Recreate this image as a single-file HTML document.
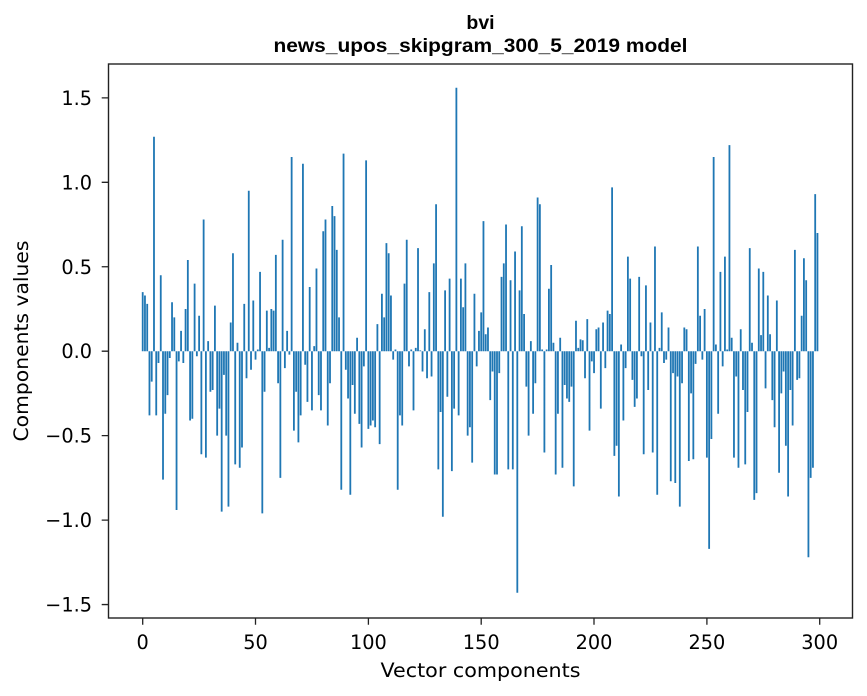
<!DOCTYPE html>
<html><head><meta charset="utf-8"><style>
html,body{margin:0;padding:0;background:#fff;}
svg{display:block;}
</style></head><body>
<svg width="867" height="696" viewBox="0 0 867 696" xmlns="http://www.w3.org/2000/svg">
<rect width="867" height="696" fill="#fff"/>
<g font-family="'Liberation Sans', Arial, sans-serif" font-weight="bold" font-size="19.5" fill="#000" text-anchor="middle">
<text x="480.5" y="29">bvi</text>
<text x="480.5" y="52" textLength="414" lengthAdjust="spacingAndGlyphs">news_upos_skipgram_300_5_2019 model</text>
</g>
<g transform="translate(142.7,351.2) scale(2.2567,-168.9)">
<path fill="none" stroke="#1f77b4" stroke-width="0.8" d="M0 0V.35M1 0V.33M2 0V.28M3 0V-.38M4 0V-.18M5 0V1.27M6 0V-.38M7 0V-.07M8 0V.45M9 0V-.76M10 0V-.37M11 0V-.26M12 0V-.04M13 0V.29M14 0V.2M15 0V-.94M16 0V-.06M17 0V.12M18 0V-.07M19 0V.25M20 0V.54M21 0V-.41M22 0V-.4M23 0V.4M24 0V-.03M25 0V.21M26 0V-.61M27 0V.78M28 0V-.63M29 0V.06M30 0V-.24M31 0V-.23M32 0V.27M33 0V-.5M34 0V-.34M35 0V-.95M36 0V-.14M37 0V-.5M38 0V-.92M39 0V.17M40 0V.58M41 0V-.67M42 0V.05M43 0V-.69M44 0V-.57M45 0V.28M46 0V-.16M47 0V.95M48 0V-.11M49 0V.3M50 0V-.05M51 0V.01M52 0V.47M53 0V-.96M54 0V-.24M55 0V.24M56 0V.02M57 0V.25M58 0V.24M59 0V.57M60 0V-.19M61 0V-.75M62 0V.66M63 0V-.1M64 0V.12M65 0V-.02M66 0V1.15M67 0V-.47M68 0V-.24M69 0V-.54M70 0V-.38M71 0V1.11M72 0V-.08M73 0V-.3M74 0V.38M75 0V-.35M76 0V.03M77 0V.49M78 0V-.26M79 0V-.35M80 0V.71M81 0V.78M82 0V-.44M83 0V-.19M84 0V.86M85 0V.8M86 0V.6M87 0V.2M88 0V-.82M89 0V1.17M90 0V-.11M91 0V-.28M92 0V-.85M93 0V-.2M94 0V-.37M95 0V.08M96 0V-.43M97 0V-.57M98 0V-.09M99 0V1.13M100 0V-.46M101 0V-.44M102 0V-.41M103 0V-.45M104 0V.16M105 0V-.55M106 0V.34M107 0V.2M108 0V.64M109 0V.58M110 0V.33M111 0V-.05M112 0V.01M113 0V-.82M114 0V-.38M115 0V-.44M116 0V.4M117 0V.66M118 0V-.09M119 0V.01M120 0V-.35M121 0V.02M122 0V.61M123 0V.005M124 0V-.12M125 0V.13M126 0V-.16M127 0V.35M128 0V-.15M129 0V.52M130 0V.87M131 0V-.7M132 0V-.36M133 0V-.98M134 0V.36M135 0V-.27M136 0V.43M137 0V-.71M138 0V-.34M139 0V1.56M140 0V-.38M141 0V.43M142 0V.26M143 0V.52M144 0V-.5M145 0V-.45M146 0V-.66M147 0V.34M148 0V-.09M149 0V.12M150 0V.23M151 0V.77M152 0V.1M153 0V.14M154 0V-.29M155 0V-.12M156 0V-.73M157 0V-.73M158 0V-.13M159 0V.44M160 0V.52M161 0V.75M162 0V-.7M163 0V.42M164 0V-.7M165 0V.59M166 0V-1.43M167 0V.36M168 0V.74M169 0V.22M170 0V-.21M171 0V-.5M172 0V.06M173 0V-.37M174 0V-.19M175 0V.91M176 0V.87M177 0V.01M178 0V-.6M179 0V.01M180 0V.37M181 0V.51M182 0V.05M183 0V-.73M184 0V-.37M185 0V.08M186 0V-.69M187 0V-.2M188 0V-.28M189 0V-.3M190 0V-.21M191 0V-.8M192 0V.18M193 0V.02M194 0V.07M195 0V.065M196 0V-.16M197 0V.19M198 0V-.47M199 0V-.06M200 0V-.13M201 0V.13M202 0V.14M203 0V-.34M204 0V.17M205 0V-.1M206 0V.24M207 0V.22M208 0V.97M209 0V-.62M210 0V-.56M211 0V-.86M212 0V.04M213 0V-.41M214 0V-.1M215 0V.56M216 0V.43M217 0V-.17M218 0V-.33M219 0V-.28M220 0V.44M221 0V-.03M222 0V-.61M223 0V.39M224 0V-.23M225 0V.17M226 0V-.6M227 0V.62M228 0V-.85M229 0V.02M230 0V.23M231 0V-.07M232 0V-.05M233 0V.14M234 0V-.77M235 0V-.13M236 0V-.78M237 0V-.15M238 0V-.92M239 0V-.19M240 0V.14M241 0V.13M242 0V-.65M243 0V-.25M244 0V-.64M245 0V-.075M246 0V.62M247 0V.21M248 0V-.05M249 0V.25M250 0V-.63M251 0V-1.17M252 0V-.52M253 0V1.15M254 0V.04M255 0V-.37M256 0V.47M257 0V-.09M258 0V.56M259 0V.01M260 0V1.22M261 0V.08M262 0V-.63M263 0V-.15M264 0V-.69M265 0V.13M266 0V-.23M267 0V-.67M268 0V-.36M269 0V.61M270 0V.05M271 0V-.88M272 0V-.84M273 0V.49M274 0V.095M275 0V.47M276 0V-.22M277 0V.33M278 0V.1M279 0V-.29M280 0V-.45M281 0V.3M282 0V-.72M283 0V-.25M284 0V-.12M285 0V-.56M286 0V-.86M287 0V-.23M288 0V-.44M289 0V.6M290 0V-.17M291 0V-.16M292 0V.21M293 0V.55M294 0V.42M295 0V-1.22M296 0V-.75M297 0V-.69M298 0V.93M299 0V.7"/>
</g>
<rect x="108.5" y="64" width="744" height="554" fill="none" stroke="#222" stroke-width="1.4"/>
<g stroke="#222" stroke-width="1.3">
<path d="M142.7 618v6.8M255.5 618v6.8M368.4 618v6.8M481.2 618v6.8M594 618v6.8M706.9 618v6.8M819.7 618v6.8"/>
<path d="M108.5 97.85h-6.8M108.5 182.3h-6.8M108.5 266.75h-6.8M108.5 351.2h-6.8M108.5 435.65h-6.8M108.5 520.1h-6.8M108.5 604.55h-6.8"/>
</g>
<g font-family="'DejaVu Sans', 'Liberation Sans', sans-serif" font-size="19.3" fill="#000">
<g text-anchor="middle">
<text x="142.7" y="649">0</text>
<text x="255.5" y="649">50</text>
<text x="368.4" y="649">100</text>
<text x="481.2" y="649">150</text>
<text x="594" y="649">200</text>
<text x="706.9" y="649">250</text>
<text x="819.7" y="649">300</text>
</g>
<g text-anchor="end">
<text x="92" y="104.9">1.5</text>
<text x="92" y="189.3">1.0</text>
<text x="92" y="273.8">0.5</text>
<text x="92" y="358.2">0.0</text>
<text x="92" y="442.7">−0.5</text>
<text x="92" y="527.1">−1.0</text>
<text x="92" y="611.6">−1.5</text>
</g>
<text x="480.5" y="677" text-anchor="middle" textLength="200" lengthAdjust="spacingAndGlyphs">Vector components</text>
<text transform="translate(28,341) rotate(-90)" text-anchor="middle" textLength="201" lengthAdjust="spacingAndGlyphs">Components values</text>
</g>
</svg>
</body></html>
